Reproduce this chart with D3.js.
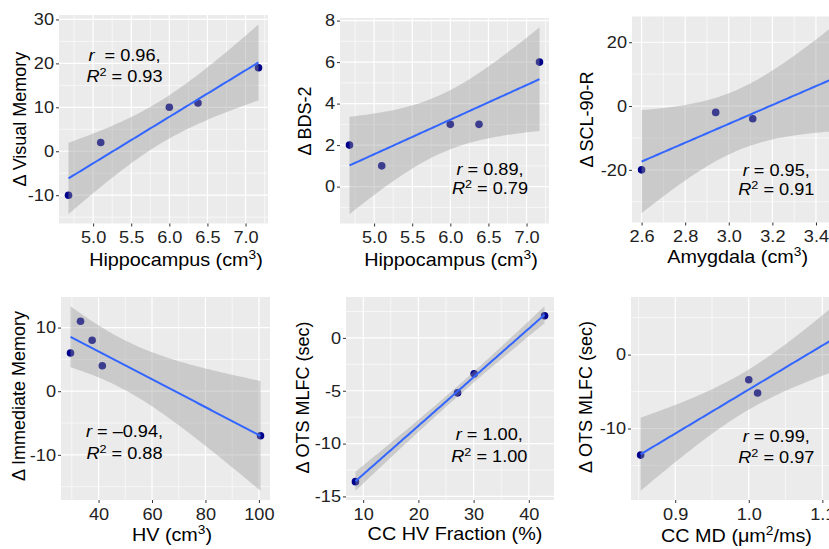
<!DOCTYPE html>
<html><head><meta charset="utf-8">
<script src="https://cdn.jsdelivr.net/npm/d3@7"></script>
<style>
body{margin:0;background:#fff}
svg{display:block}
text{font-family:"Liberation Sans",Arial,Helvetica,sans-serif}
</style>
</head><body>
<svg id="chart" width="829" height="549"></svg>
<script>
// ---------------- data ----------------
const hippocampus     = [4.677, 5.10, 6.00, 6.376, 7.17];
const visualMemory    = [-10, 2, 10, 11, 19];
const bds2            = [2, 1, 3, 3, 6];
const amygdala        = [2.60, 2.94, 3.11, 3.48];
const scl90r          = [-20, -2, -4, 7.5];
const hvVolume        = [29.5, 33.25, 37.6, 41.4, 100.6];
const immediateMemory = [6, 11, 8, 4, -7];
const ccHvFraction    = [8.6, 27.1, 30.1, 42.85];
const otsMlfc         = [-13.6, -5.2, -3.4, 2.1];
const ccMd            = [0.853, 1.012, 1.000, 1.115];

// tick labels
const p1XTicks = [5.0, 5.5, 6.0, 6.5, 7.0], p1YTicks = [-10, 0, 10, 20, 30];
const p2XTicks = [5.0, 5.5, 6.0, 6.5, 7.0], p2YTicks = [0, 2, 4, 6, 8];
const p3XTicks = [2.6, 2.8, 3.0, 3.2, 3.4, 3.6], p3YTicks = [-20, 0, 20];
const p4XTicks = [40, 60, 80, 100], p4YTicks = [-10, 0, 10];
const p5XTicks = [10, 20, 30, 40], p5YTicks = [-15, -10, -5, 0];
const p6XTicks = [0.9, 1.0, 1.1], p6YTicks = [-10, 0];

// statistics shown
const rValues  = ["0.96", "0.89", "0.95", "\u20130.94", "1.00", "0.99"];
const r2Values = ["0.93", "0.79", "0.91", "0.88", "1.00", "0.97"];

// axis titles
const xTitles = [["Hippocampus (cm","3",")"], ["Hippocampus (cm","3",")"], ["Amygdala (cm","3",")"],
                 ["HV (cm","3",")"], ["CC HV Fraction (%)","",""], ["CC MD (\u03bcm","2","/ms)"]];
const yTitles = ["\u0394 Visual Memory", "\u0394 BDS-2", "\u0394 SCL-90-R",
                 "\u0394 Immediate Memory", "\u0394 OTS MLFC (sec)", "\u0394 OTS MLFC (sec)"];

// ---------------- layout ----------------
const SX = 1.1; // horizontal text stretch seen in the figure
const layout = [
  {box:[59,15,268,223.5],  xt:[176,266],   yt:[25.5,119],  ann:[124.5,61,81.7],  rSep:"\u00a0\u00a0= "},
  {box:[340,18,549,223.5], xt:[451,266],   yt:[311,121],   ann:[490,174.5,193.5], rSep:" = "},
  {box:[632,16.5,843,222.5], xt:[737.7,263], yt:[593,119.5], ann:[776.3,175.5,194.5], rSep:" = "},
  {box:[61,297,270,500],   xt:[172,541],   yt:[24.5,396],  ann:[124.5,436.7,459.3], rSep:" = "},
  {box:[346,297,554,500],  xt:[455,540],   yt:[309,397.5], ann:[489.3,440,461.7], rSep:" = "},
  {box:[631,297,843,500],  xt:[736.5,542], yt:[592,397],   ann:[776.3,441.7,463.3], rSep:" = "}
];
const plain = v => String(v);
const panelData = [
  {x: hippocampus, y: visualMemory, xt: p1XTicks, yt: p1YTicks, fx: d3.format(".1f"), fy: plain},
  {x: hippocampus, y: bds2,         xt: p2XTicks, yt: p2YTicks, fx: d3.format(".1f"), fy: plain},
  {x: amygdala,    y: scl90r,       xt: p3XTicks, yt: p3YTicks, fx: d3.format(".1f"), fy: plain},
  {x: hvVolume,    y: immediateMemory, xt: p4XTicks, yt: p4YTicks, fx: plain, fy: plain},
  {x: ccHvFraction, y: otsMlfc,     xt: p5XTicks, yt: p5YTicks, fx: plain, fy: plain},
  {x: ccMd,        y: otsMlfc,      xt: p6XTicks, yt: p6YTicks, fx: d3.format(".1f"), fy: plain}
];

// ---------------- linear model with 95% confidence band ----------------
const T95 = {2: 4.302653, 3: 3.182446};
function lmBand(xs, ys) {
  const n = xs.length, mx = d3.mean(xs), my = d3.mean(ys);
  let sxx = 0, sxy = 0;
  xs.forEach((x, i) => { sxx += (x - mx) ** 2; sxy += (x - mx) * (ys[i] - my); });
  const b = sxy / sxx, a = my - b * mx;
  let sse = 0;
  xs.forEach((x, i) => { sse += (ys[i] - (a + b * x)) ** 2; });
  const s = Math.sqrt(sse / (n - 2)), t = T95[n - 2];
  const [x0, x1] = d3.extent(xs);
  return d3.range(80).map(i => {
    const x = x0 + (x1 - x0) * i / 79, yh = a + b * x;
    const h = t * s * Math.sqrt(1 / n + (x - mx) ** 2 / sxx);
    return {x, y: yh, lo: yh - h, hi: yh + h};
  });
}
function expand([a, b]) { const d = (b - a) * 0.05; return [a - d, b + d]; }
function minorTicks(ticks, dom) {
  const step = ticks[1] - ticks[0], out = [];
  for (let v = ticks[0] - step / 2; v <= dom[1] + 1e-9; v += step) if (v >= dom[0]) out.push(v);
  return out;
}

const svg = d3.select("#chart");
const defs = svg.append("defs");

panelData.forEach((p, k) => {
  const L = layout[k], [x0, y0, x1, y1] = L.box;
  const band = lmBand(p.x, p.y);
  const xd = expand(d3.extent(p.x));
  const yd = expand(d3.extent([...p.y, ...band.map(d => d.lo), ...band.map(d => d.hi)]));
  const xs = d3.scaleLinear().domain(xd).range([x0, x1]);
  const ys = d3.scaleLinear().domain(yd).range([y1, y0]);
  const g = svg.append("g");

  g.append("rect").attr("x", x0).attr("y", y0).attr("width", x1 - x0).attr("height", y1 - y0).attr("fill", "#EBEBEB");

  const xt = p.xt.filter(v => v >= xd[0] && v <= xd[1]);
  const yt = p.yt.filter(v => v >= yd[0] && v <= yd[1]);
  // minor grid
  g.selectAll(null).data(minorTicks(p.xt, xd)).join("line")
    .attr("x1", d => xs(d)).attr("x2", d => xs(d)).attr("y1", y0).attr("y2", y1)
    .attr("stroke", "#fff").attr("stroke-width", 0.6);
  g.selectAll(null).data(minorTicks(p.yt, yd)).join("line")
    .attr("y1", d => ys(d)).attr("y2", d => ys(d)).attr("x1", x0).attr("x2", x1)
    .attr("stroke", "#fff").attr("stroke-width", 0.6);
  // major grid
  g.selectAll(null).data(xt).join("line")
    .attr("x1", d => xs(d)).attr("x2", d => xs(d)).attr("y1", y0).attr("y2", y1)
    .attr("stroke", "#fff").attr("stroke-width", 1.2);
  g.selectAll(null).data(yt).join("line")
    .attr("y1", d => ys(d)).attr("y2", d => ys(d)).attr("x1", x0).attr("x2", x1)
    .attr("stroke", "#fff").attr("stroke-width", 1.2);

  // clipped layers
  const cid = "clip" + k;
  defs.append("clipPath").attr("id", cid).append("rect")
    .attr("x", x0).attr("y", y0).attr("width", x1 - x0).attr("height", y1 - y0);
  const c = g.append("g").attr("clip-path", `url(#${cid})`);
  c.selectAll("circle").data(p.x.map((x, i) => [x, p.y[i]])).join("circle")
    .attr("cx", d => xs(d[0])).attr("cy", d => ys(d[1])).attr("r", 3.8).attr("fill", "#00008B");
  c.append("path").datum(band)
    .attr("d", d3.area().x(d => xs(d.x)).y0(d => ys(d.lo)).y1(d => ys(d.hi)))
    .attr("fill", "#999999").attr("fill-opacity", 0.4);
  c.append("path").datum(band)
    .attr("d", d3.line().x(d => xs(d.x)).y(d => ys(d.y)))
    .attr("fill", "none").attr("stroke", "#3366FF").attr("stroke-width", 2);

  // axes
  const ax = g.append("g").attr("transform", `translate(0,${y1})`)
    .call(d3.axisBottom(xs).tickValues(xt).tickFormat(p.fx).tickSize(3).tickPadding(5));
  const ay = g.append("g").attr("transform", `translate(${x0},0)`)
    .call(d3.axisLeft(ys).tickValues(yt).tickFormat(p.fy).tickSize(3).tickPadding(3));
  [ax, ay].forEach(a => {
    a.select(".domain").remove();
    a.selectAll(".tick line").attr("stroke", "#333");
    a.selectAll(".tick text").attr("fill", "#222").attr("font-size", 16.5)
      .style("font-family", '"Liberation Sans",Arial,sans-serif');
  });
  ax.selectAll(".tick text").attr("transform", `scale(${SX},1)`);
  ay.selectAll(".tick text").attr("x", -5 / SX).attr("transform", `scale(${SX},1)`);

  // x title
  const tx = svg.append("text").attr("transform", `translate(${L.xt[0]},${L.xt[1]}) scale(${SX},1)`)
    .attr("text-anchor", "middle").attr("font-size", 18).attr("fill", "#000");
  const [t0, sup, t1] = xTitles[k];
  tx.append("tspan").text(t0);
  if (sup) {
    tx.append("tspan").attr("font-size", 12.5).attr("dy", -7).text(sup);
    tx.append("tspan").attr("dy", 7).text(t1);
  }
  // y title
  svg.append("text").attr("transform", `translate(${L.yt[0]},${L.yt[1]}) rotate(-90)`)
    .attr("text-anchor", "middle").attr("font-size", 18).attr("fill", "#000").text(yTitles[k]);

  // annotation
  const a1 = svg.append("text").attr("transform", `translate(${L.ann[0]},${L.ann[1]}) scale(${SX},1)`)
    .attr("text-anchor", "middle").attr("font-size", 16.5).attr("fill", "#000");
  a1.append("tspan").attr("font-style", "italic").text("r");
  a1.append("tspan").text(L.rSep + rValues[k] + ",");
  const a2 = svg.append("text").attr("transform", `translate(${L.ann[0]},${L.ann[2]}) scale(${SX},1)`)
    .attr("text-anchor", "middle").attr("font-size", 16.5).attr("fill", "#000");
  a2.append("tspan").attr("font-style", "italic").text("R");
  a2.append("tspan").attr("font-size", 11.5).attr("dy", -6).text("2");
  a2.append("tspan").attr("dy", 6).text(" = " + r2Values[k]);
});
</script>
</body></html>
